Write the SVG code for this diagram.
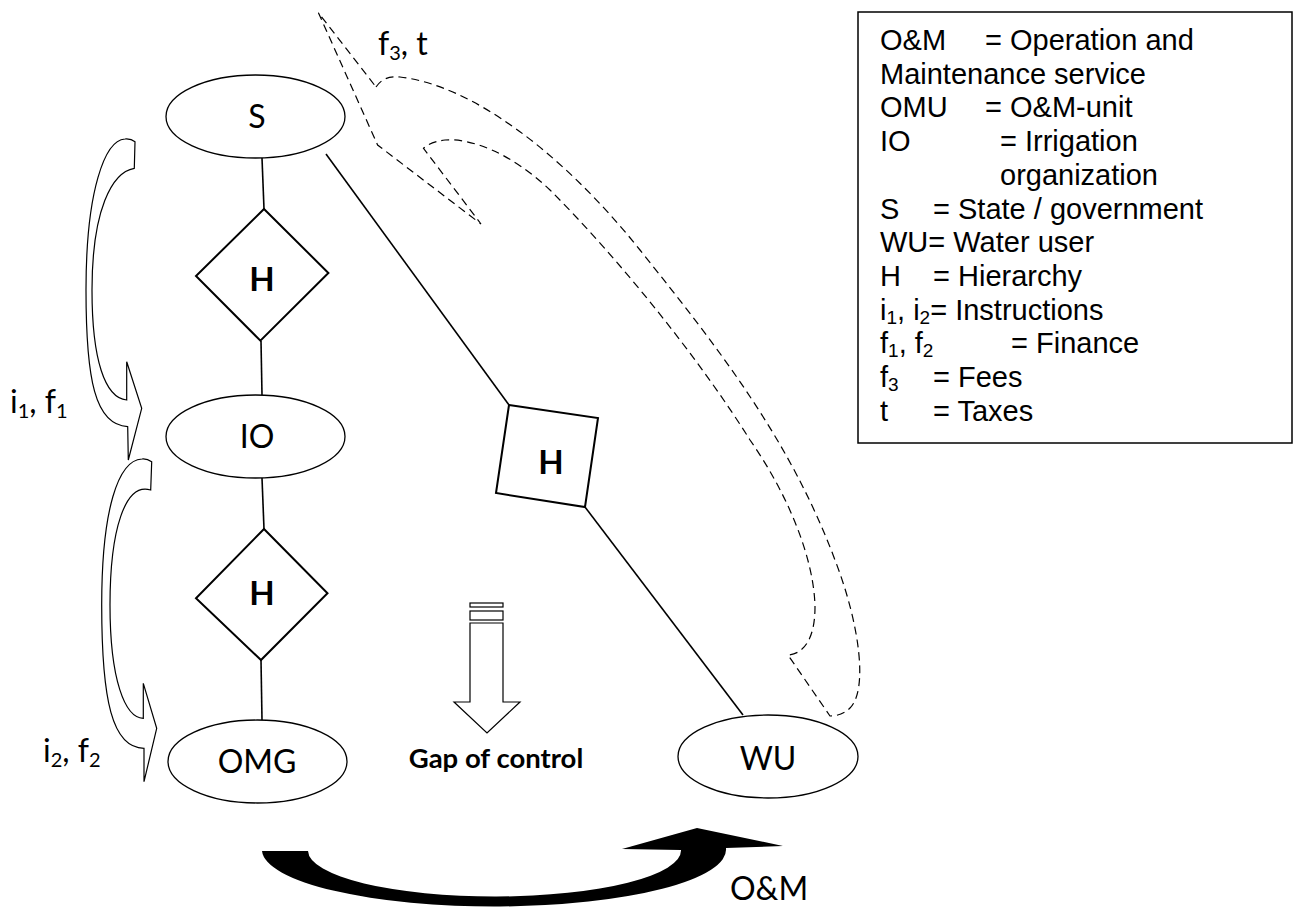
<svg xmlns="http://www.w3.org/2000/svg" width="1299" height="908" viewBox="0 0 1299 908">
<style>
.ell{fill:#fff;stroke:#000;stroke-width:1.3}
.dia{fill:#fff;stroke:#000;stroke-width:2}
.ln{fill:none;stroke:#000;stroke-width:1.6}
.blk{fill:#fff;stroke:#000;stroke-width:1.2}
.dash{fill:none;stroke:#000;stroke-width:1.2;stroke-dasharray:8 5}
.lbl{font-family:Lato,"Open Sans",sans-serif;font-size:32px;fill:#000}
.hb{font-family:Lato,"Open Sans",sans-serif;font-size:33px;font-weight:bold;fill:#000;text-anchor:middle}
.leg{font-family:"Liberation Sans",Arial,sans-serif;font-size:29px;fill:#000}
.sub{font-size:20px}
.lsub{font-size:19px}
</style>
<rect width="1299" height="908" fill="#fff"/>
<g id="connectors">
<line class="ln" x1="262" y1="158" x2="264" y2="209"/>
<line class="ln" x1="261" y1="341" x2="262" y2="395"/>
<line class="ln" x1="262" y1="478" x2="264" y2="529"/>
<line class="ln" x1="261" y1="660" x2="262" y2="720"/>
<line class="ln" x1="326" y1="154" x2="509" y2="405"/>
<line class="ln" x1="585" y1="507" x2="743" y2="715"/>
<path class="blk" d="M135,141.7 L134.3,168.3 C112,172 92,210 92,290 C92,360 105,398 126.7,400 L126.7,361.7 L141.7,408.3 L128.3,460 L127.7,426.7 C95,425 86,380 86,290 C86,190 105,140 125,139 Q131,138.5 135,141.7 Z"/>
<path class="blk" d="M151.7,461.7 L150.7,490 C125,482 110,530 110,605 C110,680 125,718 143.3,718.3 L143.3,683.3 L156.7,728.3 L144,781.7 L144,748.3 C112,748 101.7,700 101.7,605 C101.7,510 118,460 142,459 Q147,458.5 151.7,461.7 Z"/>
<path class="dash" d="M376,87 Q384,75 400,77 C470,85 560,150 640,250 C720,350 790,440 835,560 C860,625 868,690 850,708 C843,715 835,716 830,716 L788,655 C803,654 815,640 815,607 C814,555 785,490 750,440 C700,360 620,260 550,190 C510,152 470,138 445,140 Q430,142 423.5,148.3 L481,224 L377.6,145 L318.4,12.7 Z"/>
<path fill="#000" d="M726,848 A232,57 0 0 1 262,851 L308,851 A186.5,46 0 0 0 681,850 L622,849 L697,828 L783,846 Z"/>
</g>
<g id="node-S">
<ellipse class="ell" cx="255.5" cy="116.5" rx="89.5" ry="41.5"/>
<text class="lbl" x="257" y="128" text-anchor="middle">S</text>
</g>
<g id="node-H1">
<polygon class="dia" points="264,209 328.4,273 260.4,340.7 196,276"/>
<text class="hb" x="262" y="291">H</text>
</g>
<g id="node-IO">
<ellipse class="ell" cx="255.5" cy="436.5" rx="89.5" ry="41.5"/>
<text class="lbl" x="257" y="448" text-anchor="middle">IO</text>
</g>
<g id="node-H2">
<polygon class="dia" points="264,529 327.5,593.3 261,660 196,598.3"/>
<text class="hb" x="262" y="605">H</text>
</g>
<g id="node-OMG">
<ellipse class="ell" cx="257.5" cy="761.5" rx="89.5" ry="41.5"/>
<text class="lbl" x="257" y="773" text-anchor="middle">OMG</text>
</g>
<g id="node-H3">
<polygon class="dia" points="509,405 598,418 585,507 496,493"/>
<text class="hb" x="551" y="474">H</text>
</g>
<g id="node-WU">
<ellipse class="ell" cx="768" cy="756.5" rx="90" ry="41.5"/>
<text class="lbl" x="768" y="770" text-anchor="middle">WU</text>
</g>
<g id="gap">
<rect class="blk" x="470" y="603" width="33" height="4"/>
<rect class="blk" x="470" y="611" width="33" height="9"/>
<polygon class="blk" points="470,623 503,623 503,702 520,702 487,733 454,702 470,702"/>
<text class="hb" x="496" y="768" style="font-size:27.5px">Gap of control</text>
</g>
<g id="labels">
<text class="lbl" x="378" y="55">f<tspan class="sub" dy="5">3</tspan><tspan dy="-5">, t</tspan></text>
<text class="lbl" x="10" y="413">i<tspan class="sub" dy="5">1</tspan><tspan dy="-5">, f</tspan><tspan class="sub" dy="5">1</tspan></text>
<text class="lbl" x="43" y="762">i<tspan class="sub" dy="5">2</tspan><tspan dy="-5">, f</tspan><tspan class="sub" dy="5">2</tspan></text>
<text class="lbl" x="730" y="900">O&amp;M</text>
</g>
<g id="legend">
<rect x="858" y="12" width="434" height="431" fill="#fff" stroke="#000" stroke-width="1.5"/>
<text class="leg" x="880" y="50">O&amp;M</text><text class="leg" x="985" y="50">= Operation and</text>
<text class="leg" x="880" y="83.7">Maintenance service</text>
<text class="leg" x="880" y="117.4">OMU</text><text class="leg" x="985" y="117.4">= O&amp;M-unit</text>
<text class="leg" x="880" y="151.1">IO</text><text class="leg" x="1000" y="151.1">= Irrigation</text>
<text class="leg" x="1000" y="184.8">organization</text>
<text class="leg" x="880" y="218.5">S</text><text class="leg" x="933" y="218.5">= State / government</text>
<text class="leg" x="880" y="252.2">WU= Water user</text>
<text class="leg" x="880" y="285.9">H</text><text class="leg" x="933" y="285.9">= Hierarchy</text>
<text class="leg" x="880" y="319.6">i<tspan class="lsub" dy="4">1</tspan><tspan dy="-4">, i</tspan><tspan class="lsub" dy="4">2</tspan><tspan dy="-4">= Instructions</tspan></text>
<text class="leg" x="880" y="353.3">f<tspan class="lsub" dy="4">1</tspan><tspan dy="-4">, f</tspan><tspan class="lsub" dy="4">2</tspan></text><text class="leg" x="1011" y="353.3">= Finance</text>
<text class="leg" x="880" y="387">f<tspan class="lsub" dy="4">3</tspan></text><text class="leg" x="933" y="387">= Fees</text>
<text class="leg" x="880" y="420.7">t</text><text class="leg" x="933" y="420.7">= Taxes</text>
</g>
</svg>
